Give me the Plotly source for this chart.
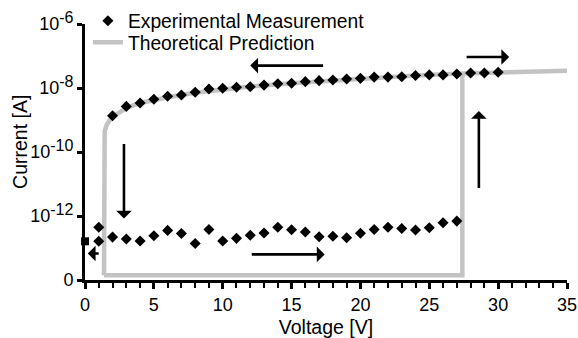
import plotly.graph_objects as go

# ---------------- data ----------------
# Upper (ON-state) branch of the measurement, V and I [A]
up_v = [2, 3, 4, 5, 6, 7, 8, 9, 10, 11, 12, 13, 14, 15, 16, 17, 18, 19, 20,
        21, 22, 23, 24, 25, 26, 27, 28, 29, 30]
up_i = [1.35e-9, 2.66e-9, 3.39e-9, 4.47e-9, 5.50e-9, 6.03e-9, 7.33e-9, 9.33e-9,
        9.77e-9, 1.05e-8, 1.10e-8, 1.23e-8, 1.35e-8, 1.41e-8, 1.58e-8, 1.70e-8,
        1.78e-8, 1.91e-8, 2.00e-8, 2.19e-8, 2.19e-8, 2.26e-8, 2.45e-8, 2.57e-8,
        2.57e-8, 2.75e-8, 2.95e-8, 2.95e-8, 3.09e-8]

# Lower (OFF-state) branch of the measurement
low_v = [1, 1, 2, 3, 4, 5, 6, 7, 8, 9, 10, 11, 12, 13, 14, 15, 16, 17, 18,
         19, 20, 21, 22, 23, 24, 25, 26, 27]
low_i = [4.47e-13, 1.62e-13, 2.19e-13, 1.91e-13, 1.66e-13, 2.40e-13, 3.55e-13,
         2.82e-13, 1.38e-13, 3.80e-13, 1.66e-13, 2.00e-13, 2.51e-13, 2.95e-13,
         4.47e-13, 3.72e-13, 3.16e-13, 2.24e-13, 2.34e-13, 2.09e-13, 2.88e-13,
         3.80e-13, 4.47e-13, 4.07e-13, 3.63e-13, 4.27e-13, 6.17e-13, 6.92e-13]

# Starting point at 0 V (square marker)
start_v = [0]
start_i = [1.62e-13]

# Theoretical prediction (hysteresis loop); None breaks the line
theo_v = [1.38, 1.38, 1.43, 1.58, 1.8, 2.2, 3, 4, 5, 6, 8, 10, 12, 15, 18, 21,
          24, 27.4, 30, 35, None, 27.4, 27.4, 1.38]
theo_i = [1.41e-14, 2.5e-10, 4.5e-10, 7.1e-10, 1.0e-9, 1.41e-9, 2.4e-9,
          3.39e-9, 4.27e-9, 5.13e-9, 7.08e-9, 9.12e-9, 1.12e-8, 1.41e-8,
          1.74e-8, 2.09e-8, 2.45e-8, 2.82e-8, 3.09e-8, 3.47e-8, None,
          2.82e-8, 1.41e-14, 1.41e-14]

SUP = '<sup><span style="font-size:16px">{}</span></sup>'
y_tickvals = [1e-14, 1e-12, 1e-10, 1e-8, 1e-6]
y_ticktext = ["0", "10" + SUP.format("-12"), "10" + SUP.format("-10"),
              "10" + SUP.format("-8"), "10" + SUP.format("-6")]
x_tickvals = [0, 5, 10, 15, 20, 25, 30, 35]

FONT = "Liberation Sans, Arial, Helvetica, sans-serif"
GRAY = "#c3c3c3"

fig = go.Figure()

fig.add_trace(go.Scatter(
    x=theo_v, y=theo_i, mode="lines", name="Theoretical Prediction",
    line=dict(color=GRAY, width=4.5), connectgaps=False, cliponaxis=False,
    legend="legend2",
))
fig.add_trace(go.Scatter(
    x=up_v + low_v, y=up_i + low_i, mode="markers", name="Experimental Measurement",
    marker=dict(symbol="diamond", size=8.5, color="black"), cliponaxis=False,
    legend="legend",
))
fig.add_trace(go.Scatter(
    x=start_v, y=start_i, mode="markers", showlegend=False,
    marker=dict(symbol="square", size=8, color="black"), cliponaxis=False,
))

arrows = [
    # (x_tail, logy_tail, x_head, logy_head)
    (17.4, -7.30, 12.0, -7.30),
    (27.6, -7.03, 30.8, -7.03),
    (28.6, -11.17, 28.6, -8.72),
    (2.83, -9.70, 2.83, -12.08),
    (12.0, -13.20, 17.4, -13.20),
    (1.1, -13.17, 0.2, -13.17),
]
for xt, yt, xh, yh in arrows:
    fig.add_annotation(
        x=xh, y=yh, ax=xt, ay=yt, xref="x", yref="y", axref="x", ayref="y",
        showarrow=True, arrowhead=1, arrowsize=1.0, arrowwidth=2.6,
        arrowcolor="black", text="",
    )

fig.add_annotation(
    text="Current [A]", textangle=-90, xref="paper", yref="paper",
    x=-0.136, y=0.541, xanchor="center", yanchor="middle", showarrow=False,
    font=dict(size=19.5),
)

legend_style = dict(xanchor="left", yanchor="top", bgcolor="rgba(0,0,0,0)",
                    font=dict(size=19.3), itemwidth=30)

fig.update_layout(
    width=578, height=338,
    margin=dict(l=85, r=11, t=24, b=58, autoexpand=False),
    paper_bgcolor="white", plot_bgcolor="white",
    font=dict(family=FONT, size=18, color="black"),
    showlegend=True,
    legend=dict(x=0.006, y=1.087, **legend_style),
    legend2=dict(x=0.006, y=1.003, **legend_style),
    xaxis=dict(
        range=[0, 35], tickmode="array", tickvals=x_tickvals,
        showgrid=False, zeroline=False, showline=True, linecolor="black",
        linewidth=3, ticks="outside", ticklen=6, tickwidth=2.5, tickcolor="black",
        minor=dict(dtick=1, ticks="outside", ticklen=5, tickwidth=2, tickcolor="black"),
        tickfont=dict(size=18), title=dict(text="Voltage [V]", font=dict(size=19.5), standoff=8),
    ),
    yaxis=dict(
        type="log", range=[-14, -6], tickmode="array", tickvals=y_tickvals,
        ticktext=y_ticktext, showgrid=False, zeroline=False, showline=True,
        linecolor="black", linewidth=3, ticks="outside", ticklen=5, tickwidth=2.5,
        tickcolor="black", tickfont=dict(size=18),
    ),
)

# remove the browser's default 8 px page margin so the figure fills the window
fig.write_html("out.html", config={"displayModeBar": False},
               post_script="document.body.style.margin='0';"
                           "document.body.style.overflow='hidden';")
